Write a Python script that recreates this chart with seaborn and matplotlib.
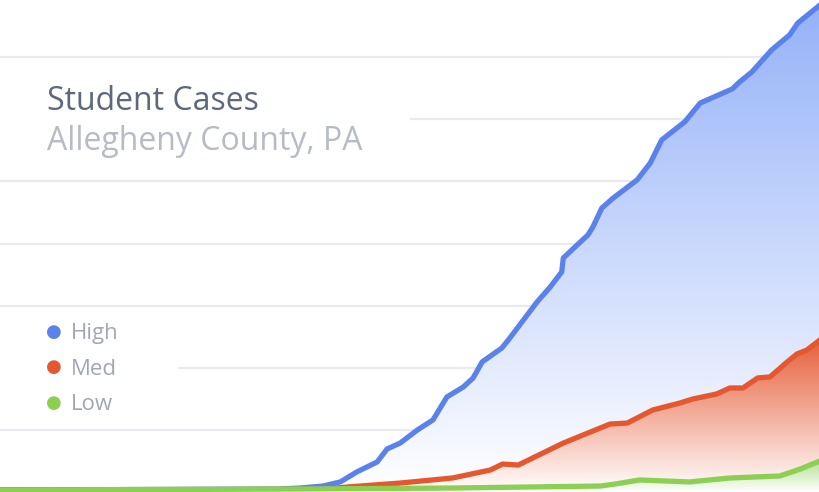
import numpy as np
import pandas as pd
import matplotlib.pyplot as plt
import seaborn as sns
from matplotlib.colors import to_rgb
from matplotlib.patches import Rectangle

# Cumulative student cases (day index, cases)
high_days = [0, 34.1, 36.6, 39.4, 41.5, 43.5, 46.0, 47.2, 48.8, 50.9, 52.8, 54.5, 56.5,
             57.7, 58.8, 61.2, 62.0, 65.5, 67.1, 68.5, 68.7, 71.7, 72.3, 73.4, 74.8,
             77.7, 79.3, 80.7, 83.5, 85.4, 89.3, 90.2, 91.7, 94.1, 96.3, 97.3, 100]
high_cases = [1.6, 2.4, 3.2, 4.8, 8.1, 16.1, 24.2, 34.6, 39.4, 49.9, 58.0, 76.5, 84.5,
              91.8, 104.7, 115.9, 122.4, 153.0, 165.0, 177.1, 188.4, 206.9, 213.3, 228.6,
              236.7, 251.2, 264.8, 283.4, 297.9, 313.1, 324.4, 330.1, 338.1, 355.8, 367.9,
              377.5, 392.0]

med_days = [0, 39.0, 42.3, 48.8, 55.2, 59.8, 61.3, 63.2, 68.7, 72.0, 74.4, 76.5, 79.6,
            82.9, 84.5, 87.4, 89.0, 90.6, 92.4, 93.9, 96.0, 97.2, 98.4, 100]
med_cases = [1.6, 2.0, 4.0, 7.2, 11.3, 17.7, 22.5, 21.7, 39.4, 48.3, 54.7, 55.5, 66.0,
             71.6, 74.9, 78.9, 83.7, 83.7, 91.8, 92.6, 104.7, 111.1, 114.3, 122.4]

low_days = [0, 36.6, 54.9, 73.2, 75.0, 78.0, 84.1, 89.0, 95.1, 97.6, 100]
low_cases = [1.6, 2.4, 3.2, 4.8, 6.4, 9.7, 8.1, 11.3, 12.9, 18.5, 25.0]

series = ["High", "Med", "Low"]
line_colors = {"High": "#5b82ea", "Med": "#e5582f", "Low": "#8ccf52"}
fill_tops = {"High": "#95b2f9", "Med": "#e75f3b", "Low": "#b4e192"}
grid_levels = [50, 100, 150, 200, 250, 300, 350]

df = pd.concat([
    pd.DataFrame({"day": high_days, "cases": high_cases, "level": "High"}),
    pd.DataFrame({"day": med_days, "cases": med_cases, "level": "Med"}),
    pd.DataFrame({"day": low_days, "cases": low_cases, "level": "Low"}),
])

sns.set_style("white")
plt.rcParams["font.family"] = ["Open Sans", "DejaVu Sans"]

fig = plt.figure(figsize=(8.2, 4.92), dpi=100)
ax = fig.add_axes([0, 0, 1, 1])
ax.axis("off")

# horizontal grid
for g in grid_levels:
    ax.axhline(g, color="#e9eaee", lw=1.6, zorder=1)

# white panels behind the title and legend hide the grid there
ax.add_patch(Rectangle((0, 0.66), 0.5, 0.19, transform=ax.transAxes,
                       facecolor="white", edgecolor="none", zorder=2))
ax.add_patch(Rectangle((0, 0.16), 0.217, 0.19, transform=ax.transAxes,
                       facecolor="white", edgecolor="none", zorder=2))

# gradient fills: colour at the series top fading to white at zero
for i, name in enumerate(series):
    sub = df[df["level"] == name]
    top = sub["cases"].max()
    poly = ax.fill_between(sub["day"], 0, sub["cases"], facecolor="none",
                           edgecolor="none", zorder=3 + 2 * i)
    t = np.linspace(1, 0, 256)[:, None]
    c = np.array(to_rgb(fill_tops[name]))
    img = 1 - t[..., None] * (1 - c)
    img = np.repeat(img, 2, axis=1)
    im = ax.imshow(img, extent=[0, 100, 0, top], aspect="auto",
                   origin="upper", zorder=3 + 2 * i, interpolation="bilinear")
    im.set_clip_path(poly.get_paths()[0], transform=ax.transData)

    sns.lineplot(data=sub, x="day", y="cases", color=line_colors[name], lw=3.8,
                 ax=ax, zorder=4 + 2 * i, legend=False)
    ax.lines[-1].set_solid_capstyle("round")
    ax.lines[-1].set_solid_joinstyle("round")

ax.set_xlim(0, 100)
ax.set_ylim(0, 396)

# title
fig.text(0.057, 0.777, "Student Cases", fontsize=23, color="#5d6878", zorder=10)
fig.text(0.057, 0.695, "Allegheny County, PA", fontsize=23, color="#b6bbc4", zorder=10)

# legend
for k, name in enumerate(series):
    y = 0.326 - k * 0.0725
    fig.text(0.066, y, "\u25cf", fontsize=13, color=line_colors[name],
             ha="center", va="center", family="DejaVu Sans")
    fig.text(0.087, y - 0.004, name, fontsize=16, color="#a1a7b2", va="center")

fig.savefig("out.png", dpi=100)
